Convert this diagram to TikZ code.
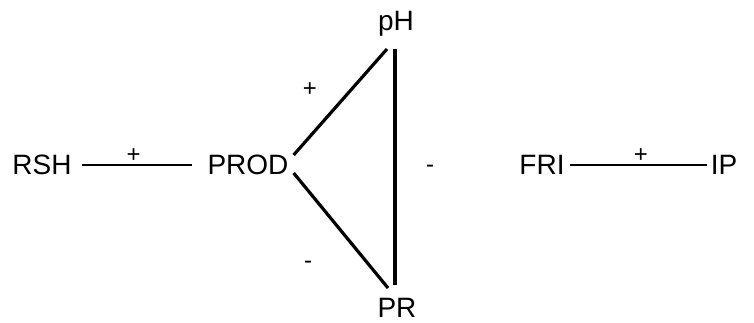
\documentclass[tikz,border=0pt]{standalone}
\usepackage{fontspec}
\setmainfont{Liberation Sans}
\begin{document}
\begin{tikzpicture}[x=1pt,y=-1pt,
  lbl/.style={inner sep=0pt,font=\fontsize{28}{32}\selectfont},
  sgn/.style={inner sep=0pt,font=\fontsize{24}{28}\selectfont},
  thinlink/.style={line width=2pt},
  thicklink/.style={line width=3.2pt}]
\useasboundingbox (0,0) rectangle (754,323);
\node[lbl] (RSH) at (42,165) {RSH};
\node[lbl] (PROD) at (248,165) {PROD};
\node[lbl,anchor=base] (pH) at (396,31) {pH};
\node[lbl,anchor=north] (PR) at (397,298) {PR};
\node[lbl] (FRI) at (542,165) {FRI};
\node[lbl] (IP) at (724,165) {IP};
% connectors
\draw[thinlink] ([xshift=10pt]RSH.east) -- ([xshift=-15pt]PROD.west)
  node[sgn,pos=0.47,above=1pt] (p1) {+};
\draw[thinlink] ([xshift=5pt]FRI.east) -- ([xshift=-4pt]IP.west)
  node[sgn,pos=0.52,above=1pt] (p2) {+};
\draw[thicklink] ([xshift=5pt,yshift=10pt]PROD.east) -- ([xshift=-9pt,yshift=-12pt]pH.south);
\draw[thicklink] ([xshift=5pt,yshift=-8pt]PROD.east) -- ([xshift=-9pt,yshift=10pt]PR.north);
\draw[thicklink] ([xshift=-1pt,yshift=-12pt]pH.south) -- ([xshift=-2pt,yshift=13pt]PR.north);
% sign labels
\node[sgn] (s1) at (310,90) {+};
\node[sgn] (s2) at (308,265) {-};
\node[sgn] (s3) at (430,169) {-};
\end{tikzpicture}
\end{document}
